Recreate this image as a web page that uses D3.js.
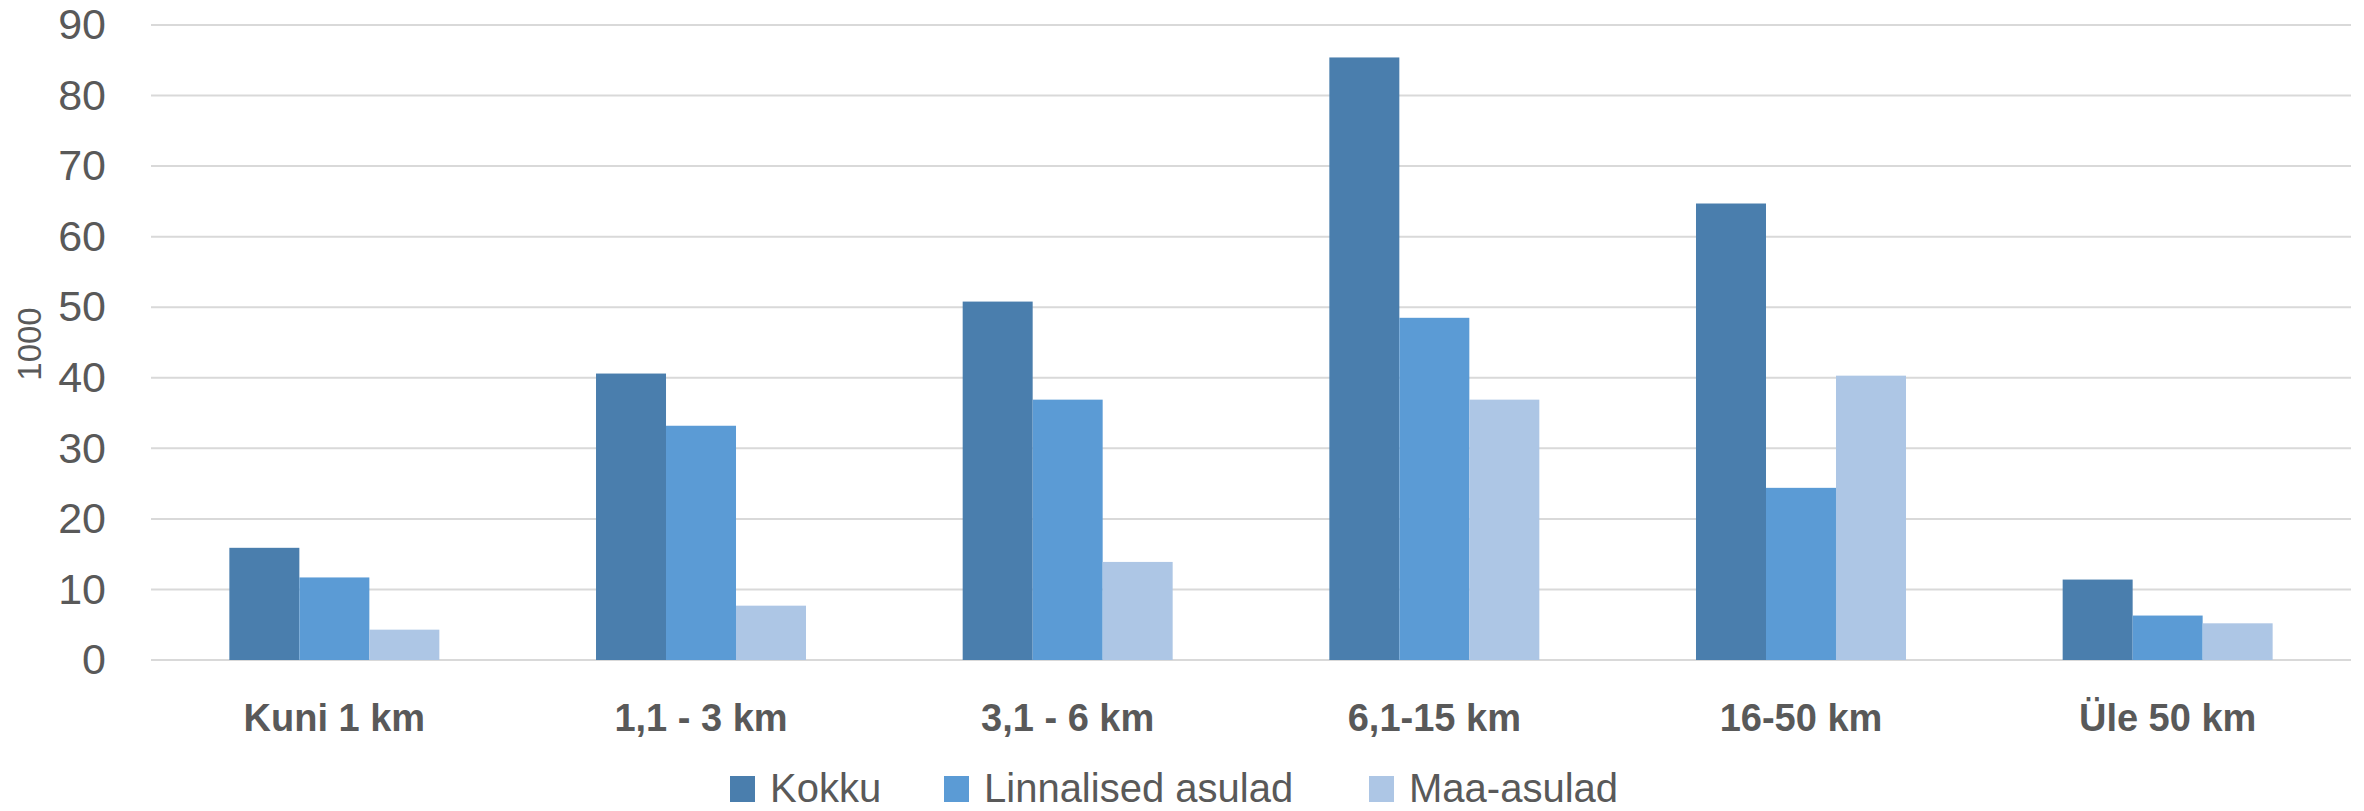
<!DOCTYPE html>
<html>
<head>
<meta charset="utf-8">
<script src="https://cdn.jsdelivr.net/npm/d3@7"></script>
<style>
  body { margin: 0; background: #fff; }
  text { font-family: "Liberation Sans", Arial, sans-serif; fill: #595959; }
</style>
</head>
<body>
<div id="chart"></div>
<script>
// categories and series (thousands)
var categories = ["Kuni 1 km", "1,1 - 3 km", "3,1 - 6 km", "6,1-15 km", "16-50 km", "Üle 50 km"];
var seriesNames = ["Kokku", "Linnalised asulad", "Maa-asulad"];
var kokku = [15.9, 40.6, 50.8, 85.4, 64.7, 11.4];
var linnalised = [11.7, 33.2, 36.9, 48.5, 24.4, 6.3];
var maa = [4.3, 7.7, 13.9, 36.9, 40.3, 5.2];
var yTicks = [0, 10, 20, 30, 40, 50, 60, 70, 80, 90];

var colors = ["#4a7ead", "#5b9bd5", "#adc6e5"];

var width = 2364, height = 811;
// plot area edges (window.top is read-only, so avoid that name)
var plotLeft = 151, plotRight = 2351, plotTop = 25, plotBottom = 660;

var svg = d3.select("#chart").append("svg")
  .attr("width", width)
  .attr("height", height);

// scales
var x0 = d3.scaleBand().domain(categories).range([plotLeft, plotRight]).paddingInner(0.4273).paddingOuter(0.2137);
var x1 = d3.scaleBand().domain(seriesNames).range([0, x0.bandwidth()]);
var y = d3.scaleLinear().domain([0, 90]).range([plotBottom, plotTop]);

// gridlines
svg.append("g")
  .selectAll("line")
  .data(yTicks)
  .enter().append("line")
  .attr("x1", plotLeft).attr("x2", plotRight)
  .attr("y1", function(d) { return y(d); })
  .attr("y2", function(d) { return y(d); })
  .attr("stroke", "#d9d9d9")
  .attr("stroke-width", 2);

// y axis labels
var yAxis = svg.append("g")
  .attr("transform", "translate(" + plotLeft + ",0)")
  .call(d3.axisLeft(y).tickValues(yTicks).tickSize(0).tickPadding(45));
yAxis.select(".domain").remove();
yAxis.selectAll("text")
  .style("font-size", "43px")
  .attr("fill", "#595959");

// y title
svg.append("text")
  .attr("transform", "translate(41,344) rotate(-90)")
  .attr("text-anchor", "middle")
  .style("font-size", "33px")
  .text("1000");

// bars
var rows = categories.map(function(c, i) {
  return { cat: c, values: [kokku[i], linnalised[i], maa[i]] };
});

var groups = svg.selectAll(".grp")
  .data(rows)
  .enter().append("g")
  .attr("class", "grp")
  .attr("transform", function(d) { return "translate(" + x0(d.cat) + ",0)"; });

groups.selectAll("rect")
  .data(function(d) { return d.values.map(function(v, j) { return { name: seriesNames[j], value: v, idx: j }; }); })
  .enter().append("rect")
  .attr("x", function(d) { return x1(d.name); })
  .attr("width", x1.bandwidth())
  .attr("y", function(d) { return y(d.value); })
  .attr("height", function(d) { return plotBottom - y(d.value); })
  .attr("fill", function(d) { return colors[d.idx]; });

// x axis labels
var xAxis = svg.append("g")
  .attr("transform", "translate(0," + plotBottom + ")")
  .call(d3.axisBottom(x0).tickSize(0).tickPadding(44));
xAxis.select(".domain").remove();
xAxis.selectAll("text")
  .style("font-size", "38px")
  .style("font-weight", "bold")
  .attr("fill", "#595959");

// legend
var legendX = [730, 944, 1369];
var legend = svg.selectAll(".legend")
  .data(seriesNames)
  .enter().append("g")
  .attr("class", "legend")
  .attr("transform", function(d, i) { return "translate(" + legendX[i] + ",776)"; });

legend.append("rect")
  .attr("width", 25)
  .attr("height", 26)
  .attr("fill", function(d, i) { return colors[i]; });

legend.append("text")
  .attr("x", 40)
  .attr("y", 26)
  .style("font-size", "40px")
  .text(function(d) { return d; });
</script>
</body>
</html>
